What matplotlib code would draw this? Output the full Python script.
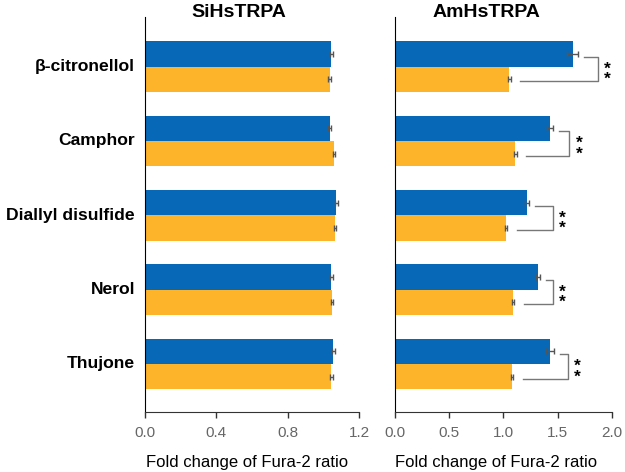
import matplotlib
matplotlib.use('Agg')
import matplotlib.pyplot as plt
import numpy as np

plt.rcParams['font.family'] = ['Liberation Sans', 'DejaVu Sans']

compounds = ['β-citronellol', 'Camphor', 'Diallyl disulfide', 'Nerol', 'Thujone']

# SiHsTRPA
si_blue = [1.046, 1.035, 1.072, 1.046, 1.057]
si_blue_err = [0.008, 0.008, 0.008, 0.008, 0.008]
si_orange = [1.035, 1.060, 1.065, 1.050, 1.046]
si_orange_err = [0.006, 0.006, 0.006, 0.006, 0.006]

# AmHsTRPA
am_blue = [1.64, 1.43, 1.22, 1.32, 1.43]
am_blue_err = [0.05, 0.03, 0.02, 0.02, 0.04]
am_orange = [1.055, 1.11, 1.025, 1.09, 1.08]
am_orange_err = [0.012, 0.012, 0.012, 0.012, 0.012]
bracket_x = [1.87, 1.61, 1.46, 1.46, 1.60]
sig = ['**', '**', '**', '**', '**']

blue = '#0868b8'
orange = '#fdb32a'
grey = '#666666'

fig = plt.figure(figsize=(6.25, 4.72), dpi=100)
ax1 = fig.add_axes([0.2312, 0.1271, 0.3432, 0.8369])
ax2 = fig.add_axes([0.632, 0.1271, 0.3467, 0.8369])

y = np.arange(len(compounds))
h = 0.34

def draw_panel(ax, b, be, o, oe, xmax, ticks, title, tx, lx):
    ax.barh(y - h / 2, b, height=h, color=blue, xerr=be,
            error_kw=dict(ecolor='#555555', elinewidth=1, capsize=2, capthick=1))
    ax.barh(y + h / 2, o, height=h, color=orange, xerr=oe,
            error_kw=dict(ecolor='#555555', elinewidth=1, capsize=2, capthick=1))
    ax.set_xlim(0, xmax)
    ax.set_ylim(4.646, -0.666)
    ax.set_xticks(ticks)
    ax.set_xticklabels(['%.1f' % t for t in ticks], fontsize=11)
    ax.tick_params(axis='x', direction='out', length=4, width=1, colors='#333333',
                   labelcolor=grey, pad=6)
    ax.set_yticks([])
    for s in ['top', 'right']:
        ax.spines[s].set_visible(False)
    ax.spines['left'].set_color('black')
    ax.spines['bottom'].set_color('#333333')
    ax.set_xlabel('Fold change of Fura-2 ratio', fontsize=12, labelpad=11, x=lx)
    ax.text(tx, 1.0, title, transform=ax.transAxes, ha='center', va='baseline',
            fontsize=14, fontweight='bold')

draw_panel(ax1, si_blue, si_blue_err, si_orange, si_orange_err, 1.2,
           [0.0, 0.4, 0.8, 1.2], 'SiHsTRPA', 0.44, 0.476)
draw_panel(ax2, am_blue, am_blue_err, am_orange, am_orange_err, 2.0,
           [0.0, 0.5, 1.0, 1.5, 2.0], 'AmHsTRPA', 0.42, 0.468)

for i, name in enumerate(compounds):
    ax1.text(-0.044, i, name, transform=ax1.get_yaxis_transform(), ha='right',
             va='center', fontsize=12.6, fontweight='bold')

# significance brackets
for i in range(len(compounds)):
    x_top = am_blue[i] + am_blue_err[i] + 0.055
    x_bot = am_orange[i] + am_orange_err[i] + 0.09
    xv = bracket_x[i]
    y_top = y[i] - h / 2 + 0.04
    y_bot = y[i] + h / 2 + 0.03
    ax2.plot([x_top, xv, xv, x_bot], [y_top, y_top, y_bot, y_bot],
             color='#777777', lw=1, clip_on=False)
    ax2.text(xv + 0.087, (y_top + y_bot) / 2 + 0.07, '\n'.join(sig[i]),
             ha='center', va='center', fontsize=12.5, fontweight='bold',
             linespacing=0.6, clip_on=False)

fig.savefig('out.png', dpi=100)
